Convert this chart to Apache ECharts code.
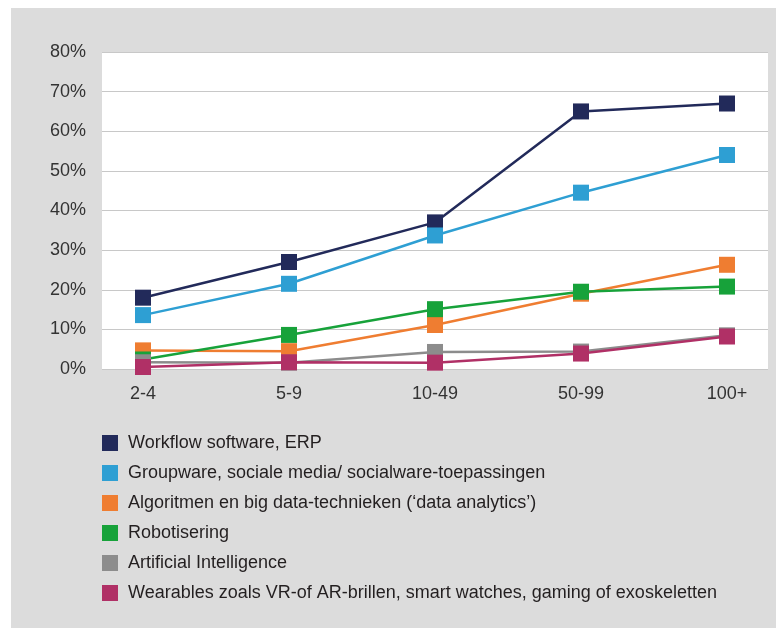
<!DOCTYPE html>
<html><head><meta charset="utf-8">
<script src="https://cdn.jsdelivr.net/npm/echarts@6/dist/echarts.min.js"></script>
<style>html,body{margin:0;padding:0;background:#fff}#c{width:776px;height:628px}</style>
</head><body><div id="c"></div>
<script>
const categories = ['2-4', '5-9', '10-49', '50-99', '100+'];
const yTicks = [0, 10, 20, 30, 40, 50, 60, 70, 80];
const seriesNames = [
  'Workflow software, ERP',
  'Groupware, sociale media/ socialware-toepassingen',
  'Algoritmen en big data-technieken (\u2018data analytics\u2019)',
  'Robotisering',
  'Artificial Intelligence',
  'Wearables zoals VR-of AR-brillen, smart watches, gaming of exoskeletten'
];
const workflow   = [18, 27, 37, 65, 67];
const groupware  = [13.6, 21.5, 33.7, 44.5, 54];
const algoritmen = [4.7, 4.5, 11.1, 19, 26.3];
const robot      = [2.4, 8.6, 15.1, 19.5, 20.8];
const ai         = [1.7, 1.6, 4.3, 4.4, 8.5];
const wearables  = [0.5, 1.7, 1.6, 3.9, 8.2];
const colors = ['#222a5a', '#2e9fd3', '#ef7d31', '#17a23a', '#8c8c8c', '#b03066'];
const values = [workflow, groupware, algoritmen, robot, ai, wearables];

const chart = echarts.init(document.getElementById('c'), null, {renderer: 'canvas'});
const font = '"Liberation Sans", Arial, sans-serif';
chart.setOption({
  animation: false,
  backgroundColor: '#ffffff',
  graphic: [{type: 'rect', z: -10, shape: {x: 11, y: 8, width: 765, height: 620}, style: {fill: '#dcdcdc'}}],
  grid: [
    {left: 102, right: 8, top: 52, bottom: 259, show: true, backgroundColor: '#ffffff', borderWidth: 0},
    {left: 143, right: 49, top: 52, bottom: 259}
  ],
  xAxis: [
    {gridIndex: 0, type: 'value', min: 0, max: 1, show: false},
    {gridIndex: 1, type: 'category', data: categories, boundaryGap: false,
     axisLine: {show: false}, axisTick: {show: false},
     axisLabel: {margin: 16, fontFamily: font, fontSize: 18, color: '#333333'}}
  ],
  yAxis: [
    {gridIndex: 0, type: 'value', min: yTicks[0], max: yTicks[yTicks.length-1], interval: 10,
     axisLine: {show: false}, axisTick: {show: false},
     axisLabel: {formatter: '{value}%', margin: 16, fontFamily: font, fontSize: 18, color: '#333333'},
     splitLine: {lineStyle: {color: '#c8c8c8', width: 1}}},
    {gridIndex: 1, type: 'value', min: 0, max: 80, show: false, splitLine: {show: false}}
  ],
  legend: {
    orient: 'vertical', left: 102, top: 434, padding: 0, itemWidth: 16, itemHeight: 16, itemGap: 12,
    icon: 'rect',
    textStyle: {fontFamily: font, fontSize: 18, lineHeight: 16, color: '#231f20', padding: [0, 0, 0, 5]},
    data: seriesNames
  },
  series: seriesNames.map((n, i) => ({
    name: n, type: 'line', xAxisIndex: 1, yAxisIndex: 1,
    data: values[i], symbol: 'rect', symbolSize: 16, clip: false,
    lineStyle: {color: colors[i], width: 2.5},
    itemStyle: {color: colors[i]},
    z: 2 + i
  }))
});
</script></body></html>
